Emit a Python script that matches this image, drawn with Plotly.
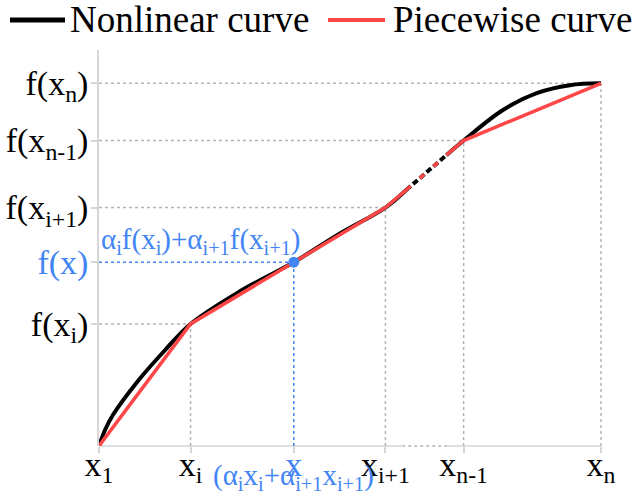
import plotly.graph_objects as go

# ---------------- data ----------------
X_TICKS = [0.0, 0.912, 2.853, 3.632, 5.0]
X_TICK_TEXT = ["x<sub>1</sub>", "x<sub>i</sub>", "x<sub>i+1</sub>", "x<sub>n-1</sub>", "x<sub>n</sub>"]
Y_TICKS = [1.683, 3.288, 4.212, 5.0]
Y_TICK_TEXT = ["f(x<sub>i</sub>)", "f(x<sub>i+1</sub>)", "f(x<sub>n-1</sub>)", "f(x<sub>n</sub>)"]

X_POINT = 1.94
F_POINT = 2.534
X_POINT_TEXT = "x"
F_POINT_TEXT = "f(x)"
F_FORMULA = "α<sub>i</sub>f(x<sub>i</sub>)+α<sub>i+1</sub>f(x<sub>i+1</sub>)"
X_FORMULA = "(α<sub>i</sub>x<sub>i</sub>+α<sub>i+1</sub>x<sub>i+1</sub>)"

CURVE_X = [0.0, 0.06, 0.14, 0.39, 0.65, 0.912, 1.40, 1.94, 2.40, 2.853, 3.06, 3.46, 3.632, 4.02, 4.36, 4.69, 5.0]
CURVE_Y = [0.0, 0.22, 0.43, 0.90, 1.31, 1.683, 2.13, 2.534, 2.93, 3.288, 3.53, 4.01, 4.212, 4.63, 4.865, 4.975, 5.0]

PIECE_X = [0.0, 0.912, 2.853, 3.06, 3.46, 3.632, 5.0]
PIECE_Y = [0.0, 1.683, 3.288, 3.53, 4.01, 4.212, 5.0]

GAP = [3.06, 3.46]        # dashed section of the curves
AXIS_GAP = [3.02, 3.47]   # dotted section of the x axis

SERIES_NAMES = ["Nonlinear curve", "Piecewise curve"]

# ---------------- styles ----------------
BLACK = "#000000"
RED = "#ff4747"
BLUE = "#4285f4"
GUIDE = "#b4b4b4"
AXIS = "#d6d6d6"
FONT = "Liberation Serif"

W, H = 638, 498
ML, MR, MT, MB = 99, 34, 50, 52
X_RANGE = [0, 5.03]
Y_RANGE = [0, 5.46]


def px(x):
    return (x - ML) / (W - ML - MR)


def py(y):
    return (H - MB - y) / (H - MT - MB)


def split(xs, ys, lo, hi):
    a = [(x, y) for x, y in zip(xs, ys) if x <= lo]
    b = [(x, y) for x, y in zip(xs, ys) if lo <= x <= hi]
    c = [(x, y) for x, y in zip(xs, ys) if x >= hi]
    return a, b, c


fig = go.Figure()

# nonlinear curve (black)
ca, cb, cc = split(CURVE_X, CURVE_Y, GAP[0], GAP[1])
for seg, dash in [(ca, "solid"), (cb, "6px,3px"), (cc, "solid")]:
    fig.add_trace(go.Scatter(
        x=[p[0] for p in seg], y=[p[1] for p in seg], mode="lines",
        line=dict(color=BLACK, width=4, shape="spline", smoothing=1.0, dash=dash),
        name=SERIES_NAMES[0], showlegend=False, hoverinfo="skip"))

# piecewise curve (red)
pa, pb, pc = split(PIECE_X, PIECE_Y, GAP[0], GAP[1])
for seg, dash in [(pa, "solid"), (pb, "6px,12px"), (pc, "solid")]:
    fig.add_trace(go.Scatter(
        x=[p[0] for p in seg], y=[p[1] for p in seg], mode="lines",
        line=dict(color=RED, width=3.5, dash=dash),
        name=SERIES_NAMES[1], showlegend=False, hoverinfo="skip"))

# interpolated point
fig.add_trace(go.Scatter(
    x=[X_POINT], y=[F_POINT], mode="markers",
    marker=dict(color=BLUE, size=11), showlegend=False, hoverinfo="skip"))

shapes = []
# dotted guides
for xv, yv in zip(X_TICKS[1:], Y_TICKS):
    shapes.append(dict(type="line", xref="x", yref="y", x0=X_RANGE[0], x1=xv, y0=yv, y1=yv,
                       line=dict(color=GUIDE, width=1.5, dash="dot"), layer="below"))
    shapes.append(dict(type="line", xref="x", yref="y", x0=xv, x1=xv, y0=Y_RANGE[0], y1=yv,
                       line=dict(color=GUIDE, width=1.5, dash="dot"), layer="below"))
shapes.append(dict(type="line", xref="x", yref="y", x0=X_RANGE[0], x1=X_POINT, y0=F_POINT, y1=F_POINT,
                   line=dict(color=BLUE, width=1.5, dash="dot"), layer="below"))
shapes.append(dict(type="line", xref="x", yref="y", x0=X_POINT, x1=X_POINT, y0=Y_RANGE[0], y1=F_POINT,
                   line=dict(color=BLUE, width=1.5, dash="dot"), layer="below"))

# x axis line with a dotted gap
shapes.append(dict(type="line", xref="x", yref="paper", x0=X_TICKS[0], x1=AXIS_GAP[0], y0=0, y1=0,
                   line=dict(color=AXIS, width=1.5), layer="below"))
shapes.append(dict(type="line", xref="x", yref="paper", x0=AXIS_GAP[0], x1=AXIS_GAP[1], y0=0, y1=0,
                   line=dict(color=GUIDE, width=1.5, dash="dot"), layer="below"))
shapes.append(dict(type="line", xref="x", yref="paper", x0=AXIS_GAP[1], x1=X_TICKS[-1], y0=0, y1=0,
                   line=dict(color=AXIS, width=1.5), layer="below"))

# manual legend
shapes.append(dict(type="line", xref="paper", yref="paper", x0=px(10), x1=px(65), y0=py(20), y1=py(20),
                   line=dict(color=BLACK, width=5)))
shapes.append(dict(type="line", xref="paper", yref="paper", x0=px(328), x1=px(385), y0=py(20), y1=py(20),
                   line=dict(color=RED, width=4)))

annotations = [
    dict(text=SERIES_NAMES[0], xref="paper", yref="paper", x=px(68), y=py(19),
         xanchor="left", yanchor="middle", showarrow=False, font=dict(size=37, color=BLACK, family=FONT)),
    dict(text=SERIES_NAMES[1], xref="paper", yref="paper", x=px(391), y=py(19),
         xanchor="left", yanchor="middle", showarrow=False, font=dict(size=37, color=BLACK, family=FONT)),
    dict(text=F_FORMULA, xref="x", yref="y", x=X_RANGE[0], y=F_POINT, xanchor="left", yanchor="bottom",
         yshift=1, showarrow=False, font=dict(size=29, color=BLUE, family=FONT)),
    dict(text=X_FORMULA, xref="x", yref="paper", x=X_POINT, y=0, xanchor="center", yanchor="middle",
         yshift=-31, showarrow=False, font=dict(size=29, color=BLUE, family=FONT)),
]


def blue(t):
    return '<span style="color:%s">%s</span>' % (BLUE, t)


xt = sorted(zip(X_TICKS + [X_POINT], X_TICK_TEXT + [blue(X_POINT_TEXT)]))
yt = sorted(zip(Y_TICKS + [F_POINT], Y_TICK_TEXT + [blue(F_POINT_TEXT)]))

fig.update_layout(
    width=W, height=H,
    margin=dict(l=ML, r=MR, t=MT, b=MB, pad=0, autoexpand=False),
    paper_bgcolor="white", plot_bgcolor="white",
    font=dict(family=FONT, size=34, color=BLACK),
    shapes=shapes, annotations=annotations, showlegend=False,
    xaxis=dict(range=X_RANGE, tickvals=[v for v, _ in xt], ticktext=[t for _, t in xt],
               showgrid=False, zeroline=False, showline=False, automargin=False,
               ticks="outside", ticklen=6, tickwidth=1.5, tickcolor=AXIS,
               ticklabelstandoff=-18,
               tickfont=dict(size=34, color=BLACK, family=FONT)),
    yaxis=dict(range=Y_RANGE, tickvals=[v for v, _ in yt], ticktext=[t for _, t in yt],
               showgrid=False, zeroline=False, showline=True, linecolor=AXIS, linewidth=1.5,
               automargin=False, ticklabelstandoff=-4,
               ticks="outside", ticklen=6, tickwidth=1.5, tickcolor=AXIS,
               tickfont=dict(size=34, color=BLACK, family=FONT)),
)

fig.write_html("out.html")
